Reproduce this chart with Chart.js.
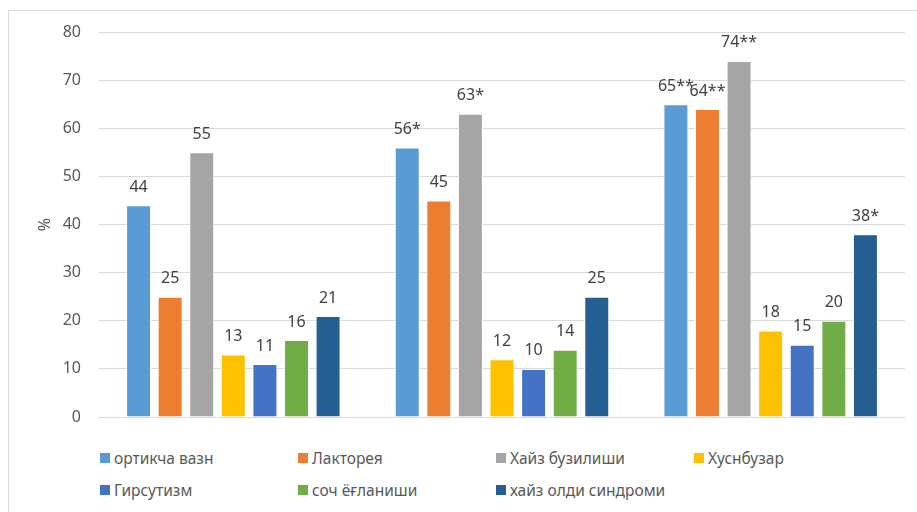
<!DOCTYPE html>
<html>
<head>
<meta charset="utf-8">
<script src="https://cdn.jsdelivr.net/npm/chart.js@4.4.0/dist/chart.umd.min.js"></script>
<style>
  html, body { margin: 0; padding: 0; background: #fff; }
  body { width: 917px; height: 512px; overflow: hidden; position: relative; font-family: "Noto Sans", sans-serif; }
  #frame { position: absolute; left: 8px; top: 10px; width: 1000px; height: 600px; border: 1px solid #d9d9d9; box-sizing: border-box; }
  #box { position: absolute; left: 0; top: 0; width: 917px; height: 430px; }
  #legend { position: absolute; left: 100px; top: 442px; display: grid; grid-template-columns: repeat(4, 198px); grid-auto-rows: 32px; }
  #legend div { display: flex; align-items: center; font-size: 15.5px; color: #595959; white-space: nowrap; }
  #legend span { display: inline-block; width: 10px; height: 10px; margin-right: 4px; }
</style>
</head>
<body>
<div id="frame"></div>
<div id="box"><canvas id="chart"></canvas></div>
<div id="legend"></div>
<script>
// three unlabeled groups, seven symptoms each
const groups = ['', '', ''];

const names = ['ортикча вазн', 'Лакторея', 'Хайз бузилиши', 'Хуснбузар', 'Гирсутизм', 'соч ёғланиши', 'хайз олди синдроми'];
const colors = ['#5b9bd5', '#ed7d31', '#a5a5a5', '#ffc000', '#4472c4', '#70ad47', '#255e91'];

const ortikchaVazn = [44, 56, 65];
const laktoreya = [25, 45, 64];
const hayzBuzilishi = [55, 63, 74];
const husnbuzar = [13, 12, 18];
const girsutizm = [11, 10, 15];
const sochYoglanishi = [16, 14, 20];
const hayzOldi = [21, 25, 38];

// significance marks printed after each value
const ortikchaMarks = ['', '*', '**'];
const laktoreyaMarks = ['', '', '**'];
const hayzMarks = ['', '*', '**'];
const plainMarks = ['', '', ''];
const hayzOldiMarks = ['', '', '*'];

const yTicks = [0, 10, 20, 30, 40, 50, 60, 70, 80];

const series = [ortikchaVazn, laktoreya, hayzBuzilishi, husnbuzar, girsutizm, sochYoglanishi, hayzOldi];
const marks = [ortikchaMarks, laktoreyaMarks, hayzMarks, plainMarks, plainMarks, plainMarks, hayzOldiMarks];

const valueLabels = {
    id: 'valueLabels',
    afterDatasetsDraw(chart) {
        const ctx = chart.ctx;
        ctx.save();
        ctx.font = '16px "Noto Sans", sans-serif';
        ctx.fillStyle = '#404040';
        ctx.textAlign = 'center';
        ctx.textBaseline = 'middle';
        chart.data.datasets.forEach((ds, i) => {
            chart.getDatasetMeta(i).data.forEach((bar, j) => {
                ctx.fillText(ds.data[j] + ds.marks[j], bar.x, bar.y - 18);
            });
        });
        ctx.restore();
    }
};

const chart = new Chart(document.getElementById('chart'), {
    type: 'bar',
    data: {
        labels: groups,
        datasets: series.map((d, i) => ({
            label: names[i],
            data: d,
            marks: marks[i],
            backgroundColor: colors[i],
            borderColor: '#ffffff',
            borderWidth: 1,
            categoryPercentage: 0.823,
            barPercentage: 0.79
        }))
    },
    options: {
        responsive: true,
        maintainAspectRatio: false,
        animation: false,
        layout: { padding: { top: 32, right: 12, bottom: 13, left: 0 } },
        plugins: { legend: { display: false }, tooltip: { enabled: false } },
        scales: {
            x: {
                grid: { display: false },
                border: { display: false },
                ticks: { display: false },
                afterFit(s) { s.height = 0; s.paddingLeft = 0; s.paddingRight = 0; }
            },
            y: {
                min: 0,
                max: 80,
                afterBuildTicks(s) { s.ticks = yTicks.map(v => ({ value: v })); },
                afterFit(s) { s.width = 99; s.paddingTop = 0; s.paddingBottom = 0; },
                grid: { color: '#d9d9d9', lineWidth: 1, drawTicks: false },
                border: { display: false },
                ticks: { padding: 18, color: '#595959', font: { family: '"Noto Sans", sans-serif', size: 16 } },
                title: { display: true, text: '%', color: '#595959', padding: { top: 36, bottom: 0 }, font: { family: '"Noto Sans", sans-serif', size: 16 } }
            }
        }
    },
    plugins: [valueLabels]
});

// legend laid out in four fixed columns
const legend = document.getElementById('legend');
names.forEach((n, i) => {
    const item = document.createElement('div');
    const sw = document.createElement('span');
    sw.style.background = colors[i];
    item.appendChild(sw);
    item.appendChild(document.createTextNode(n));
    legend.appendChild(item);
});
</script>
</body>
</html>
